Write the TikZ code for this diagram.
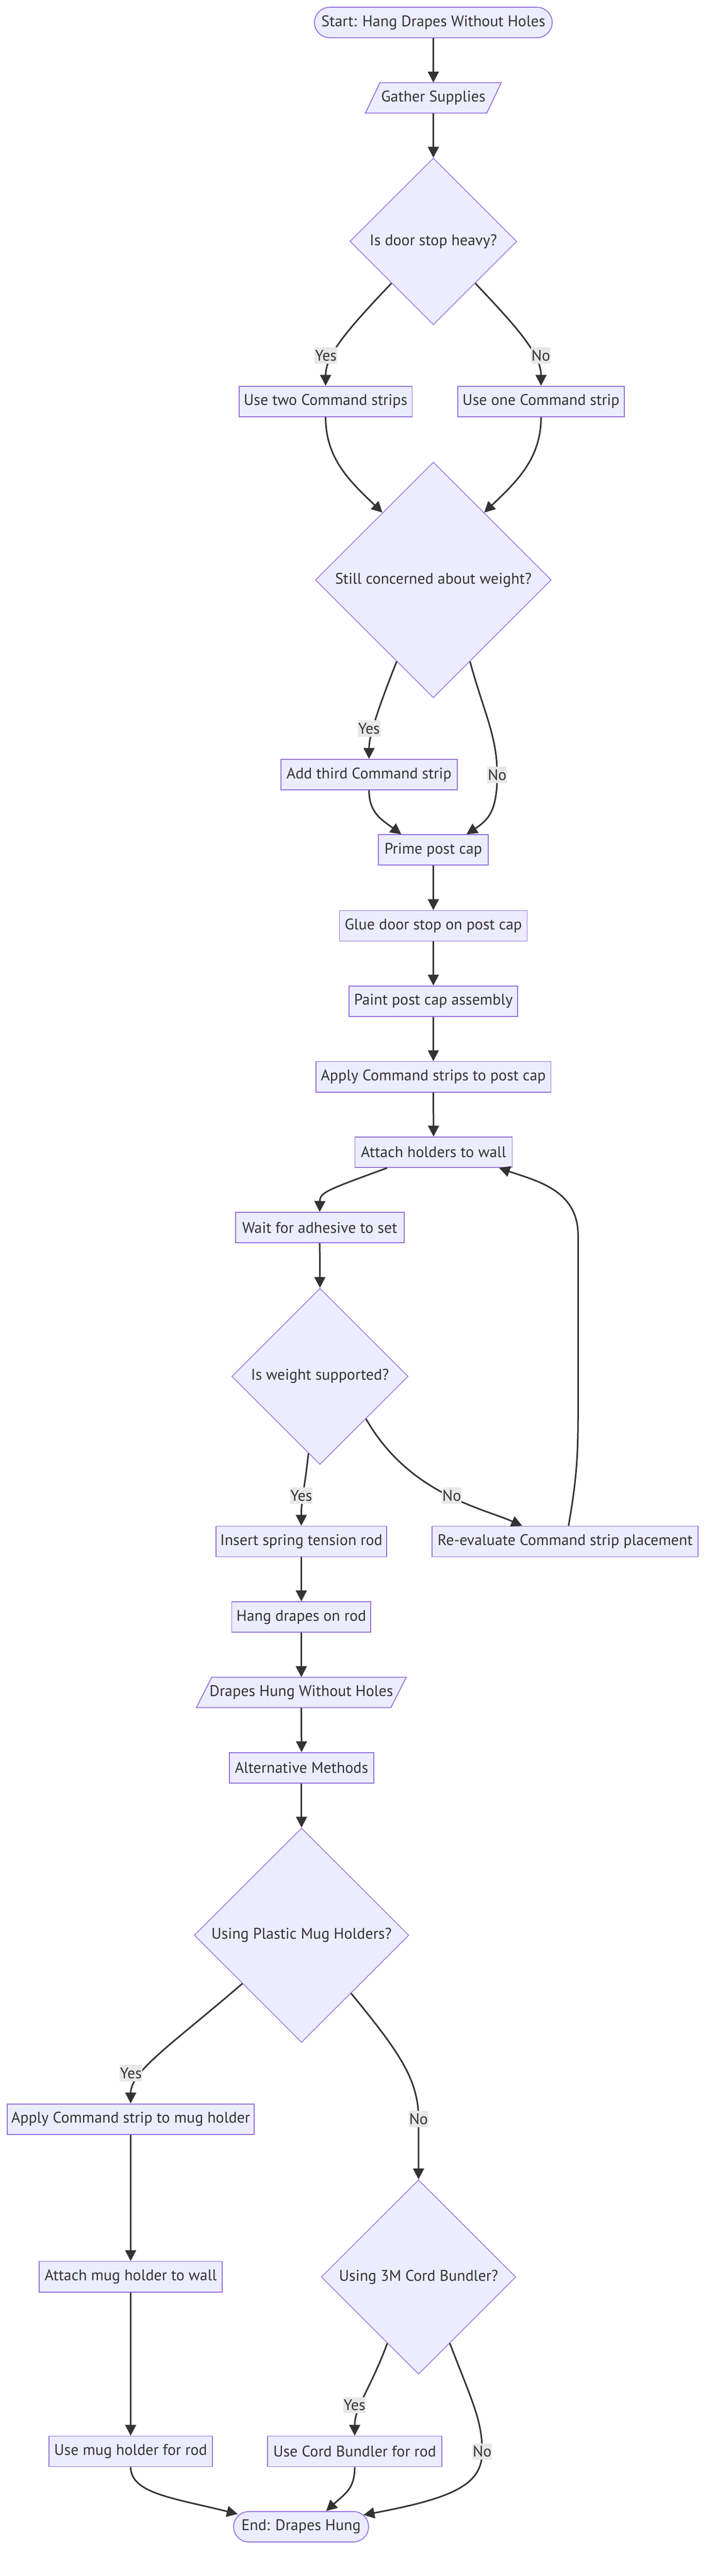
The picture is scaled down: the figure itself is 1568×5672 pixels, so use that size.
\documentclass[tikz,border=0pt]{standalone}
\usepackage{fontspec}
\setmainfont{PT Sans}
\usetikzlibrary{shapes.geometric,arrows.meta,calc}
\definecolor{nodefill}{HTML}{ECECFF}
\definecolor{nodedraw}{HTML}{9370DB}
\definecolor{edgecol}{HTML}{333333}
\definecolor{lblfill}{HTML}{E8E8E8}
\definecolor{txt}{HTML}{333333}
\begin{document}
\begin{tikzpicture}[x=1pt,y=-1pt,
  font=\fontsize{34}{40}\selectfont,
  box/.style={draw=nodedraw, fill=nodefill, line width=2pt, minimum height=67pt, inner sep=0pt, text=txt},
  term/.style={box, rounded corners=33.5pt},
  dec/.style={diamond, aspect=1, draw=nodedraw, fill=nodefill, line width=1.6pt, inner sep=0pt, text=txt},
  iotext/.style={inner sep=0pt, minimum height=67pt, text=txt},
  ioshape/.style={draw=nodedraw, fill=nodefill, line width=2pt},
  edge/.style={draw=edgecol, line width=3.4pt, -{Triangle[length=24pt,width=24pt]}},
  lbl/.style={fill=lblfill, inner xsep=1pt, inner ysep=0pt, minimum height=36pt, text=txt}]
\useasboundingbox (0,0) rectangle (1568,5672);

% ---------- nodes ----------
\node[term, minimum width=523pt] (start) at (953.5,49.5) {Start: Hang Drapes Without Holes};
\coordinate (gc) at (953.5,215.5);
\draw[ioshape] ($(gc)+(-117.5,-33.5)$) -- ($(gc)+(149.5,-33.5)$) -- ($(gc)+(117.5,33.5)$) -- ($(gc)+(-149.5,33.5)$) -- cycle;
\node[iotext, minimum width=267pt] (gather) at (gc) {Gather Supplies};
\node[dec, minimum width=367pt, minimum height=367pt] (d1) at (953.5,531.5) {Is door stop heavy?};
\node[box, minimum width=381pt] (two) at (716.5,884) {Use two Command strips};
\node[box, minimum width=367pt] (one) at (1190.5,884) {Use one Command strip};
\node[dec, minimum width=519pt, minimum height=519pt] (d2) at (953.5,1277) {Still concerned about weight?};
\node[box, minimum width=388pt] (third) at (812,1705.5) {Add third Command strip};
\node[box, minimum width=241pt] (prime) at (953.5,1871.5) {Prime post cap};
\node[box, minimum width=413pt] (glue) at (953.5,2038.5) {Glue door stop on post cap};
\node[box, minimum width=371pt] (paint) at (953.5,2204.5) {Paint post cap assembly};
\node[box, minimum width=517pt] (apply) at (953.5,2371) {Apply Command strips to post cap};
\node[box, minimum width=346pt] (attach) at (954,2537) {Attach holders to wall};
\node[box, minimum width=371pt] (wait) at (703.5,2703) {Wait for adhesive to set};
\node[dec, minimum width=388pt, minimum height=388pt] (d3) at (704,3030.5) {Is weight supported?};
\node[box, minimum width=376pt] (insert) at (663,3394) {Insert spring tension rod};
\node[box, minimum width=585pt] (reeval) at (1243.5,3394) {Re-evaluate Command strip placement};
\node[box, minimum width=306pt] (hang) at (663,3560.5) {Hang drapes on rod};
\coordinate (hc) at (663,3726.5);
\draw[ioshape] ($(hc)+(-197,-33.5)$) -- ($(hc)+(231,-33.5)$) -- ($(hc)+(197,33.5)$) -- ($(hc)+(-231,33.5)$) -- cycle;
\node[iotext, minimum width=428pt] (hung) at (hc) {Drapes Hung Without Holes};
\node[box, minimum width=317pt] (alt) at (663.5,3892.5) {Alternative Methods};
\node[dec, minimum width=472pt, minimum height=472pt] (d4) at (663.5,4261) {Using Plastic Mug Holders?};
\node[box, minimum width=543pt] (applymug) at (287.5,4666) {Apply Command strip to mug holder};
\node[dec, minimum width=428pt, minimum height=428pt] (d5) at (921,5013.5) {Using 3M Cord Bundler?};
\node[box, minimum width=403pt] (attachmug) at (287.5,5013) {Attach mug holder to wall};
\node[box, minimum width=359pt] (usemug) at (287.5,5397.5) {Use mug holder for rod};
\node[box, minimum width=383pt] (usecord) at (780.5,5397.5) {Use Cord Bundler for rod};
\node[term, minimum width=297pt] (end) at (662.5,5563.5) {End: Drapes Hung};

% ---------- label anchor points ----------
\coordinate (p1y) at (717,783);
\coordinate (p1n) at (1190,783);
\coordinate (p2y) at (812,1604);
\coordinate (p2n) at (1094,1706);
\coordinate (p3y) at (663,3293);
\coordinate (p3n) at (994,3293);
\coordinate (p4y) at (288,4565);
\coordinate (p4n) at (921,4666);
\coordinate (p5y) at (780,5296);
\coordinate (p5n) at (1061,5398);

% ---------- edges ----------
\draw[edge] (start.south) -- (gather.north);
\draw[edge] (gather.south) -- (d1.north);
\draw[edge] (d1.south west) .. controls (770,720) and (716.5,780) .. (two.north);
\draw[edge] (d1.south east) .. controls (1137,720) and (1190.5,780) .. (one.north);
\draw[edge] (two.south) .. controls (716.5,1010) and (770,1060) .. ($(d2.west)!0.57!(d2.north)$);
\draw[edge] (one.south) .. controls (1190.5,1010) and (1137,1060) .. ($(d2.east)!0.57!(d2.north)$);
\draw[edge] ($(d2.west)!0.69!(d2.south)$) .. controls (833,1557) and (812,1620) .. (third.north);
\draw[edge] ($(d2.east)!0.69!(d2.south)$) .. controls (1065,1570) and (1094,1620) .. (p2n) .. controls (1094,1785) and (1075,1805) .. ($(prime.north)!0.6!(prime.north east)$);
\draw[edge] (third.south) .. controls (812,1790) and (840,1805) .. ($(prime.north)!0.58!(prime.north west)$);
\draw[edge] (prime.south) -- (glue.north);
\draw[edge] (glue.south) -- (paint.north);
\draw[edge] (paint.south) -- (apply.north);
\draw[edge] (apply.south) -- (attach.north);
\draw[edge] ($(attach.south west)+(72,0)$) .. controls (720,2620) and (704,2625) .. (wait.north);
\draw[edge] (wait.south) -- (d3.north);
\draw[edge] ($(d3.west)!0.87!(d3.south)$) .. controls (670,3280) and (663,3300) .. (insert.north);
\draw[edge] ($(d3.east)!0.48!(d3.south)$) .. controls (900,3290) and (1060,3320) .. ($(reeval.north west)+(199,0)$);
\draw[edge] ($(reeval.north west)+(301,0)$) .. controls (1270,3250) and (1272,3200) .. (1272,3100) -- (1272,2720) .. controls (1272,2620) and (1180,2600) .. ($(attach.south east)+(-30,0)$);
\draw[edge] (insert.south) -- (hang.north);
\draw[edge] (hang.south) -- (hung.north);
\draw[edge] (hung.south) -- (alt.north);
\draw[edge] (alt.south) -- (d4.north);
\draw[edge] ($(d4.west)!0.45!(d4.south)$) .. controls (380,4500) and (288,4560) .. (applymug.north);
\draw[edge] ($(d4.east)!0.54!(d4.south)$) .. controls (880,4520) and (921,4580) .. (p4n) -- (d5.north);
\draw[edge] (applymug.south) -- (attachmug.north);
\draw[edge] (attachmug.south) -- (usemug.north);
\draw[edge] ($(d5.west)!0.68!(d5.south)$) .. controls (815,5260) and (780.5,5300) .. (usecord.north);
\draw[edge] ($(d5.east)!0.68!(d5.south)$) .. controls (1040,5290) and (1061,5330) .. (p5n) .. controls (1061,5470) and (1000,5500) .. ($(end.east)+(-12,-26)$);
\draw[edge] (usemug.south) .. controls (288,5490) and (380,5500) .. ($(end.west)+(10,-28)$);
\draw[edge] (usecord.south) .. controls (780.5,5480) and (760,5490) .. ($(end.north)+(55,0)$);

% ---------- edge labels ----------
\node[lbl] (l1y) at (p1y) {Yes};
\node[lbl] (l1n) at (p1n) {No};
\node[lbl] (l2y) at (p2y) {Yes};
\node[lbl] (l2n) at (p2n) {No};
\node[lbl] (l3y) at (p3y) {Yes};
\node[lbl] (l3n) at (p3n) {No};
\node[lbl] (l4y) at (p4y) {Yes};
\node[lbl] (l4n) at (p4n) {No};
\node[lbl] (l5y) at (p5y) {Yes};
\node[lbl] (l5n) at (p5n) {No};
\end{tikzpicture}
\end{document}
